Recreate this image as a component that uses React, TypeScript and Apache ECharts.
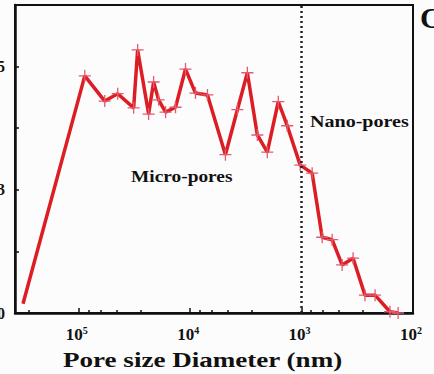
import React, { useEffect, useRef } from "react";
import * as echarts from "echarts";

// Pore diameter (nm) and distribution values
const diameters = [317000, 88400, 58500, 44750, 32200, 29640, 23620, 21310, 19220, 16640, 13540, 11020, 8970, 7000, 4830, 3771, 3069, 2498, 2032, 1620, 1346, 1029, 804, 654, 532, 433, 345, 270, 219, 161, 136];
const volumes = [0.15, 3.85, 3.44, 3.56, 3.33, 4.27, 3.23, 3.75, 3.46, 3.26, 3.34, 3.96, 3.57, 3.54, 2.57, 3.3, 3.9, 2.89, 2.61, 3.43, 3.04, 2.4, 2.27, 1.23, 1.19, 0.78, 0.89, 0.29, 0.29, 0.02, 0.0];
const yTickLabels = ["0", "", "3", "", "5", ""];
const boundaryDiameter = 1000;
const xMin = 100;
const xMax = 374000;

export default function App() {
  const ref = useRef<HTMLDivElement>(null);
  useEffect(() => {
    if (!ref.current) return;
    const chart = echarts.init(ref.current, null, { renderer: "svg" });
    const serif = "'Liberation Serif', 'DejaVu Serif', serif";
    const data = diameters.map((d, i) =>
      i === 0 ? { value: [d, volumes[i]], symbol: "none" } : { value: [d, volumes[i]] }
    );
    chart.setOption({
      animation: false,
      backgroundColor: "#fcfcfd",
      grid: {
        left: 15,
        right: 21,
        top: 5,
        bottom: 61,
        show: true,
        borderColor: "#111",
        borderWidth: 2,
        backgroundColor: "transparent",
        containLabel: false,
        outerBoundsMode: "none",
      },
      xAxis: {
        type: "log",
        logBase: 10,
        inverse: true,
        min: xMin,
        max: xMax,
        axisLine: { show: true, lineStyle: { color: "#111", width: 2.5 } },
        axisTick: { show: true, inside: true, length: 5, lineStyle: { color: "#111", width: 1.5 } },
        minorTick: { show: true, splitNumber: 5, length: 3, lineStyle: { color: "#111", width: 1.5 } },
        splitLine: { show: false },
        axisLabel: {
          showMaxLabel: false,
          margin: 12,
          padding: [0, 4, 0, 0],
          formatter: (v: number) => `{b|10}{s|${Math.round(Math.log10(v))}}`,
          rich: {
            b: { fontFamily: serif, fontWeight: "bold", fontSize: 17, color: "#111" },
            s: { fontFamily: serif, fontWeight: "bold", fontSize: 10, color: "#111", verticalAlign: "top", padding: [0, 0, 8, 0] },
          },
        },
      },
      yAxis: {
        type: "value",
        min: 0,
        max: 5,
        interval: 1,
        axisLine: { show: true, lineStyle: { color: "#111", width: 2.5 } },
        axisTick: { show: true, inside: true, length: 4, lineStyle: { color: "#111", width: 1.5 } },
        splitLine: { show: false },
        axisLabel: {
          margin: 10,
          fontFamily: serif,
          fontWeight: "bold",
          fontSize: 16,
          color: "#111",
          formatter: (v: number) => yTickLabels[Math.round(v)] ?? "",
        },
      },
      series: [
        {
          type: "line",
          data,
          symbol: "path://M5 0V10M0 5H10",
          symbolSize: 12,
          showSymbol: true,
          itemStyle: { color: "transparent", borderColor: "#e4596d", borderWidth: 1.3 },
          lineStyle: { color: "#dc1e24", width: 3.5 },
          z: 3,
          markLine: {
            silent: true,
            symbol: "none",
            label: { show: false },
            lineStyle: { color: "#222", type: [2, 3], width: 2.5 },
            data: [{ xAxis: boundaryDiameter }],
          },
        },
      ],
      graphic: [
        {
          type: "text",
          left: 310,
          top: 113,
          style: { text: "Nano-pores", fontFamily: serif, fontWeight: "bold", fontSize: 17, fill: "#111" },
          scaleX: 1.18,
        },
        {
          type: "text",
          left: 131,
          top: 168,
          style: { text: "Micro-pores", fontFamily: serif, fontWeight: "bold", fontSize: 17, fill: "#111" },
          scaleX: 1.14,
        },
        {
          type: "text",
          left: 63,
          top: 348,
          style: { text: "Pore size Diameter (nm)", fontFamily: serif, fontWeight: "bold", fontSize: 22, fill: "#111" },
          scaleX: 1.23,
        },
        {
          type: "text",
          left: 420,
          top: 2,
          style: { text: "C", fontFamily: serif, fontWeight: "bold", fontSize: 30, fill: "#111" },
        },
      ],
    });
    return () => chart.dispose();
  }, []);
  return (
    <div
      ref={ref}
      style={{ position: "fixed", left: 0, top: 0, width: 434, height: 374 }}
    />
  );
}
